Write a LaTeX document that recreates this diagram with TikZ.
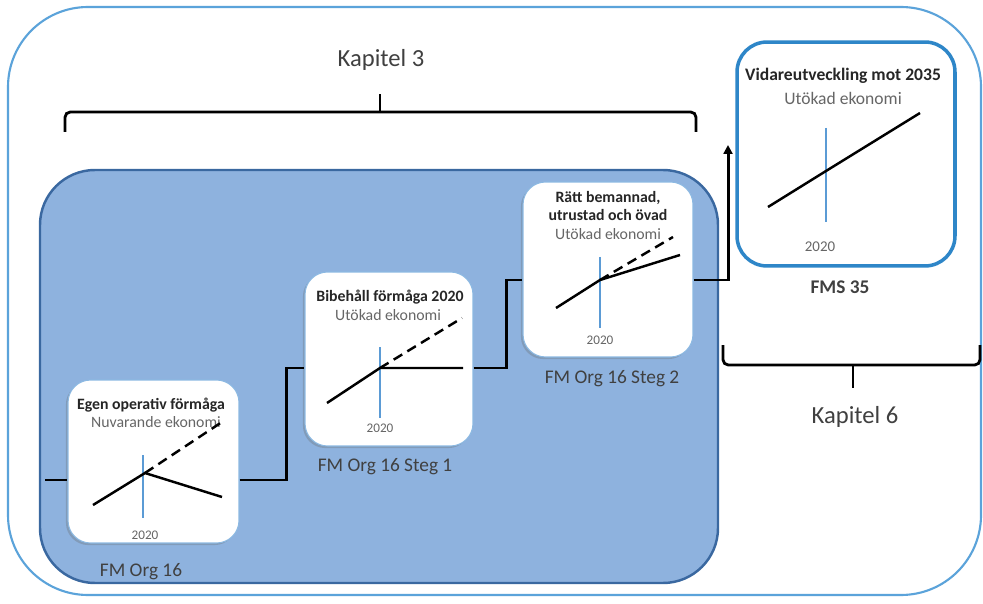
\documentclass[tikz,border=0pt]{standalone}
\usepackage{fontspec}
\setmainfont{Carlito}
\usetikzlibrary{calc,arrows.meta,shadows}
\definecolor{outerblue}{RGB}{91,163,218}
\definecolor{stagefill}{RGB}{142,178,222}
\definecolor{stageedge}{RGB}{58,104,160}
\definecolor{yearblue}{RGB}{91,155,213}
\definecolor{goalblue}{RGB}{46,134,200}
\definecolor{textgray}{RGB}{64,64,64}
\def\drawstep{\draw[line width=1.7pt]}
\def\drawtrend{\draw[line width=1.4pt]}
\def\drawyear{\draw[color=yearblue, line width=1.1pt]}
\def\drawbracket{\draw[line width=1.6pt, rounded corners=3pt]}
\def\panelnode{\node[panel]}

\begin{document}
\begin{tikzpicture}[x=0.02cm,y=-0.02cm,inner sep=1mm,
  panel/.style={draw=yearblue!70, fill=white, line width=0.6pt, rounded corners=0.45cm,
    drop shadow={shadow xshift=-1.2pt, shadow yshift=-1.2pt, opacity=0.3, fill=black!60}},
  goalpanel/.style={draw=goalblue, fill=white, line width=2pt, rounded corners=0.6cm},
  kapitel/.style={font=\fontsize{14}{16}\selectfont, text=textgray},
  steplabel/.style={font=\fontsize{11}{13}\selectfont, text=textgray},
  paneltitle/.style={font=\bfseries\fontsize{9}{10.5}\selectfont, text=black!85, align=center},
  panelsub/.style={font=\fontsize{9}{10.5}\selectfont, text=black!60},
  yearlabel/.style={font=\fontsize{7.5}{9}\selectfont, text=black!60}]
\fill[white] (0,0) rectangle (983,604);
\useasboundingbox (0,0) rectangle (983,604);

% ---------- the two frames
\draw[color=outerblue, line width=1.2pt, rounded corners=1.6cm] (8,7) rectangle (981,595);
\draw[fill=stagefill, draw=stageedge, line width=1.4pt, rounded corners=1.1cm] (40,170) rectangle (718,583);

% ---------- Kapitel 3 over the three steps
\node[kapitel] (kap3) at (381,60) {Kapitel 3};
\coordinate (b3l) at (65,132);
\coordinate (b3r) at (696,132);
\coordinate (b3m) at (380,112); % middle of the bracket
\drawbracket (b3l) |- (b3m) -| (b3r);
\drawbracket (b3m) -- ++(0,-18);

% ---------- the steps, each panel with its own trend
\panelnode (p1) [minimum width=3.42cm, minimum height=3.26cm] at (153.5,461.5) {};
\panelnode (p2) [minimum width=3.36cm, minimum height=3.48cm] at (389,359) {};
\panelnode (p3) [minimum width=3.4cm, minimum height=3.5cm] at (608,269.5) {};
\node[goalpanel, minimum width=4.36cm, minimum height=4.48cm] (p4) at (846,154) {};

% step 1, c1 is where 2020 meets the trend
\coordinate (c1) at (145,473);
\node[paneltitle] (t1) at ($ (c1) + (6,-68) $) {Egen operativ förmåga};
\node[panelsub] (s1) at ($ (c1) + (11,-51) $) {Nuvarande ekonomi};
\drawyear ($ (c1) + (-2,-18) $) -- ($ (c1) + (-2,45) $);
\drawtrend[dash pattern=on 0.2cm off 0.12cm] (c1) -- ($ (c1) + (80,-53) $);
\drawtrend ($ (c1) + (-52,32) $) -- (c1) -- ($ (c1) + (77,24) $);
\node[yearlabel] (y1) at ($ (c1) + (0,62) $) {2020};
\node[steplabel] (l1) at (141,572) {FM Org 16};

% step 2
\coordinate (c2) at (380,368);
\node[paneltitle] (t2) at ($ (c2) + (10,-71) $) {Bibehåll förmåga 2020};
\node[panelsub] (s2) at ($ (c2) + (8,-53) $) {Utökad ekonomi};
\drawyear ($ (c2) + (0,-21) $) -- ($ (c2) + (0,50) $);
\drawtrend[dash pattern=on 0.2cm off 0.12cm] (c2) -- ($ (c2) + (82,-50) $);
\drawtrend ($ (c2) + (-53,35) $) -- (c2) -- ($ (c2) + (83,0) $);
\node[yearlabel] (y2) at ($ (c2) + (0,60) $) {2020};
\node[steplabel] (l2) at (385,467) {FM Org 16 Steg 1};

% step 3
\coordinate (c3) at (600,280);
\node[paneltitle] (t3) at ($ (c3) + (8,-74) $) {Rätt bemannad,\\utrustad och övad};
\node[panelsub] (s3) at ($ (c3) + (8,-46) $) {Utökad ekonomi};
\drawyear ($ (c3) + (0,-23) $) -- ($ (c3) + (0,48) $);
\drawtrend[dash pattern=on 0.2cm off 0.12cm] (c3) -- ($ (c3) + (73,-43) $);
\drawtrend ($ (c3) + (-44,28) $) -- (c3) -- ($ (c3) + (80,-25) $);
\node[yearlabel] (y3) at ($ (c3) + (0,60) $) {2020};
\node[steplabel] (l3) at (612,379) {FM Org 16 Steg 2};

% the goal 2035
\coordinate (c4) at (826,171);
\node[paneltitle, font=\bfseries\fontsize{10}{12}\selectfont] (t4) at (843,76) {Vidareutveckling mot 2035};
\node[panelsub, font=\fontsize{10}{12}\selectfont] (s4) at (843,98) {Utökad ekonomi};
\drawyear ($ (c4) + (0,-43) $) -- ($ (c4) + (0,51) $);
\drawtrend ($ (c4) + (-58,36) $) -- (c4) -- ($ (c4) + (94,-58) $);
\node[yearlabel, font=\fontsize{8.5}{10}\selectfont] (y4) at ($ (c4) + (-6,76) $) {2020};
\node[steplabel, font=\bfseries\fontsize{11}{13}\selectfont] (l4) at (840,287) {FMS 35};

% ---------- the staircase from step to step
\coordinate (start) at (45,480);
\coordinate (rise) at (728,145); % arrow tip towards 2035
\drawstep (start) -- (p1.west |- start);
\drawstep (p1.east |- start) -- ++(47,0) |- (p2.west |- c2);
\drawstep (p2.east |- c2) -- ++(33,0) |- (p3.west |- c3);
\drawstep[-{Triangle[length=5pt,width=5pt]}] (p3.east |- c3) -| (rise);

% ---------- Kapitel 6 under the goal
\coordinate (b6l) at (723,345);
\coordinate (b6r) at (980,345);
\coordinate (b6m) at (853,365);
\drawbracket (b6l) |- (b6m) -| (b6r);
\drawbracket (b6m) -- ++(0,23);
\node[kapitel] (kap6) at (855,417) {Kapitel 6};
\end{tikzpicture}
\end{document}
